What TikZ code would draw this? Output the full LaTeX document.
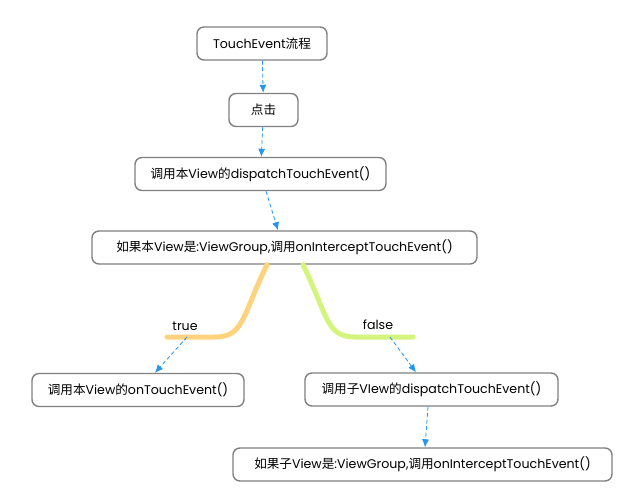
\documentclass[tikz,border=0pt]{standalone}
\usepackage{fontspec}
\setmainfont{Poppins}
\newfontfamily\cjk{Noto Sans CJK SC}
\usetikzlibrary{arrows.meta, positioning}
\definecolor{flowblue}{RGB}{35,150,238}
\definecolor{boxgray}{RGB}{128,128,128}
\definecolor{trueorange}{RGB}{255,210,125}
\definecolor{falsegreen}{RGB}{212,245,125}

\begin{document}
\begin{tikzpicture}[x=1pt, y=-1pt, font=\fontsize{12.6}{14}\selectfont, >={Latex[length=8pt, width=7pt]},
  flowbox/.style={draw=boxgray, line width=1.4pt, rounded corners=7pt, fill=white, inner sep=0pt, minimum height=33pt},
  flowarrow/.style={->, flowblue, dashed, dash pattern=on 4pt off 2.5pt, line width=0.8pt},
  branch/.style={line width=5pt, line cap=round}]
  \useasboundingbox (0,0) rectangle (621,500);
  % main chain
  \node[flowbox, minimum width=130pt] (start) at (262,43.5) {TouchEvent{\cjk 流程}};
  \node[flowbox, minimum width=69pt] (click) at (263.5,110) {{\cjk 点击}};
  \node[flowbox, minimum width=251pt] (selfdisp) at (260.5,174) {{\cjk 调用本}View{\cjk 的}dispatchTouchEvent()};
  \node[flowbox, minimum width=385pt] (selfint) at (284.5,247.5) {{\cjk 如果本}View{\cjk 是}:ViewGroup,{\cjk 调用}onInterceptTouchEvent()};
  \draw[flowarrow] (start) -- (click);
  \draw[flowarrow] (click) -- (selfdisp);
  \draw[flowarrow] ([xshift=5.5pt]selfdisp.south) -- ([xshift=-6.5pt]selfint.north);
  % true / false branches
  \coordinate (tend) at (167,337);
  \coordinate (fend) at (413,337);
  \draw[branch, trueorange] ([xshift=-17.5pt]selfint.south) .. controls (242,316) and (244,337) .. (215,337) -- (tend);
  \draw[branch, falsegreen] ([xshift=18.5pt]selfint.south) .. controls (328,316) and (326,337) .. (355,337) -- (fend);
  \node (truelbl) at (185,326) {true};
  \node (falselbl) at (378,325) {false};
  \coordinate (tfork) at (187,337);
  \coordinate (ffork) at (390,337);
  % results
  \node[flowbox, minimum width=212pt] (ontouch) at (138,390) {{\cjk 调用本}View{\cjk 的}onTouchEvent()};
  \node[flowbox, minimum width=253pt] (childdisp) at (431.5,389.5) {{\cjk 调用子}VIew{\cjk 的}dispatchTouchEvent()};
  \node[flowbox, minimum width=379pt] (childint) at (422.5,464.5) {{\cjk 如果子}View{\cjk 是}:ViewGroup,{\cjk 调用}onInterceptTouchEvent()};
  \draw[flowarrow] (tfork) -- ([xshift=17pt]ontouch.north);
  \draw[flowarrow] (ffork) -- ([xshift=-15.5pt]childdisp.north);
  \draw[flowarrow] ([xshift=-3.5pt]childdisp.south) -- ([xshift=2.5pt]childint.north);
\end{tikzpicture}
\end{document}
